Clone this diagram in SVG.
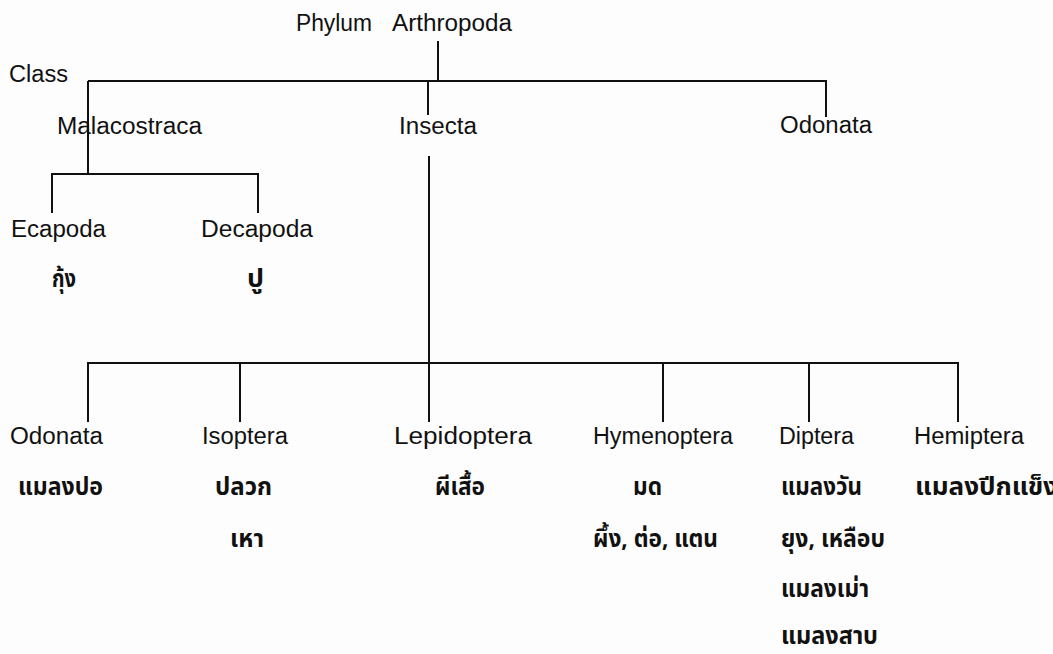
<svg xmlns="http://www.w3.org/2000/svg" width="1053" height="654" viewBox="0 0 1053 654">
<style>
.bg{fill:#fdfdfd}
.l{font-family:"Liberation Sans",Arial,sans-serif;font-size:23px;fill:#111}
.t{font-family:"Noto Sans Thai","Tahoma","DejaVu Sans",sans-serif;font-size:24px;font-weight:bold;fill:#111}
.c{fill:none;stroke:#111;stroke-width:2}
</style>
<rect class="bg" x="0" y="0" width="1053" height="654"/>
<g id="connectors">
<path class="c" d="M438,41V81"/>
<path class="c" d="M88,81H826V117"/>
<path class="c" d="M88,81V174"/>
<path class="c" d="M428,81V115"/>
<path class="c" d="M52,213V174H258V213"/>
<path class="c" d="M429,156V422"/>
<path class="c" d="M88,422V363H958V422"/>
<path class="c" d="M240,363V422"/>
<path class="c" d="M663,363V422"/>
<path class="c" d="M809,363V422"/>
</g>
<g id="phylum"><text class="l" x="296" y="31" textLength="76" lengthAdjust="spacingAndGlyphs">Phylum</text><text class="l" x="392" y="31" textLength="120" lengthAdjust="spacingAndGlyphs">Arthropoda</text></g>
<g id="class"><text class="l" x="9" y="82" textLength="59" lengthAdjust="spacingAndGlyphs">Class</text></g>
<g id="malacostraca"><text class="l" x="57" y="134" textLength="145" lengthAdjust="spacingAndGlyphs">Malacostraca</text></g>
<g id="insecta"><text class="l" x="399" y="134" textLength="78" lengthAdjust="spacingAndGlyphs">Insecta</text></g>
<g id="odonata-class"><text class="l" x="780" y="133" textLength="92" lengthAdjust="spacingAndGlyphs">Odonata</text></g>
<g id="ecapoda"><text class="l" x="11" y="237" textLength="95" lengthAdjust="spacingAndGlyphs">Ecapoda</text><text class="t" x="52" y="287" textLength="24" lengthAdjust="spacingAndGlyphs">กุ้ง</text></g>
<g id="decapoda"><text class="l" x="201" y="237" textLength="112" lengthAdjust="spacingAndGlyphs">Decapoda</text><text class="t" x="247" y="287" textLength="17" lengthAdjust="spacingAndGlyphs">ปู</text></g>
<g id="odonata"><text class="l" x="10" y="444" textLength="93" lengthAdjust="spacingAndGlyphs">Odonata</text><text class="t" x="18" y="495" textLength="85" lengthAdjust="spacingAndGlyphs">แมลงปอ</text></g>
<g id="isoptera"><text class="l" x="202" y="444" textLength="86" lengthAdjust="spacingAndGlyphs">Isoptera</text><text class="t" x="215" y="495" textLength="57" lengthAdjust="spacingAndGlyphs">ปลวก</text><text class="t" x="230" y="547" textLength="34" lengthAdjust="spacingAndGlyphs">เหา</text></g>
<g id="lepidoptera"><text class="l" x="394" y="444" textLength="138" lengthAdjust="spacingAndGlyphs">Lepidoptera</text><text class="t" x="435" y="495" textLength="50" lengthAdjust="spacingAndGlyphs">ผีเสื้อ</text></g>
<g id="hymenoptera"><text class="l" x="593" y="444" textLength="140" lengthAdjust="spacingAndGlyphs">Hymenoptera</text><text class="t" x="633" y="495" textLength="29" lengthAdjust="spacingAndGlyphs">มด</text><text class="t" x="593" y="547" textLength="125" lengthAdjust="spacingAndGlyphs">ผึ้ง, ต่อ, แตน</text></g>
<g id="diptera"><text class="l" x="779" y="444" textLength="75" lengthAdjust="spacingAndGlyphs">Diptera</text><text class="t" x="781" y="495" textLength="81" lengthAdjust="spacingAndGlyphs">แมลงวัน</text><text class="t" x="781" y="547" textLength="104" lengthAdjust="spacingAndGlyphs">ยุง, เหลือบ</text><text class="t" x="781" y="597" textLength="88" lengthAdjust="spacingAndGlyphs">แมลงเม่า</text><text class="t" x="781" y="644" textLength="97" lengthAdjust="spacingAndGlyphs">แมลงสาบ</text></g>
<g id="hemiptera"><text class="l" x="914" y="444" textLength="110" lengthAdjust="spacingAndGlyphs">Hemiptera</text><text class="t" x="915" y="495" textLength="143" lengthAdjust="spacingAndGlyphs">แมลงปีกแข็ง</text></g>
</svg>
